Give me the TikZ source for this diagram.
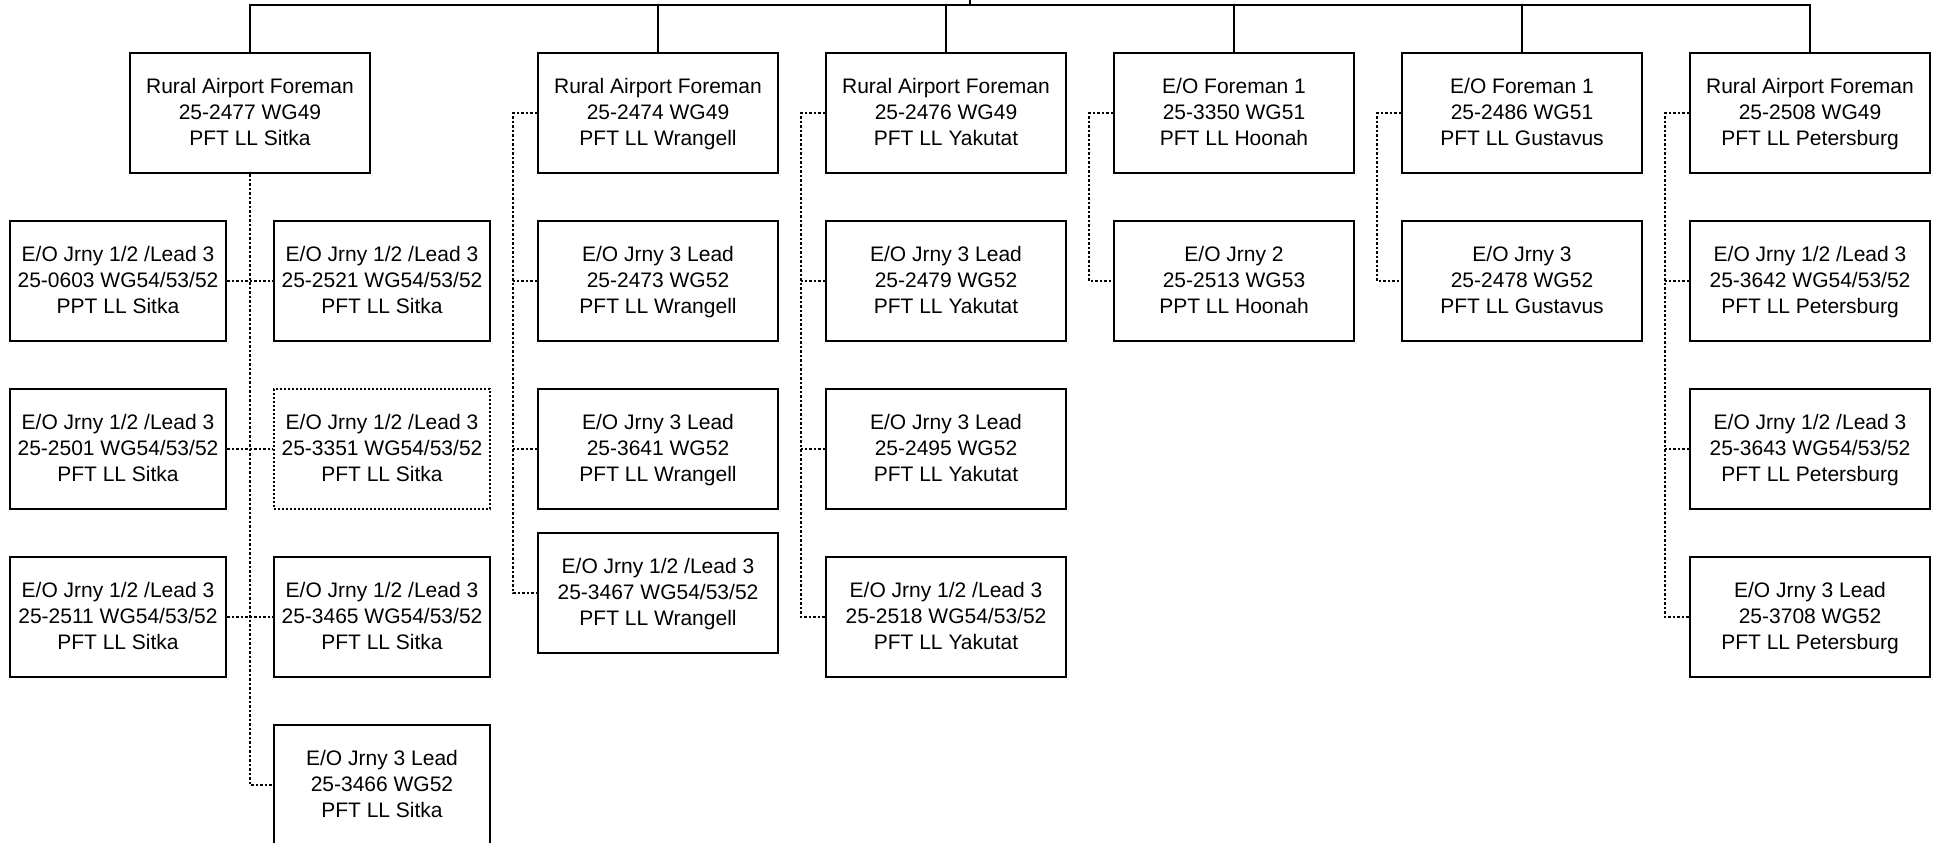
\documentclass[tikz,border=0pt]{standalone}
\usepackage{fontspec}
\setmainfont{Liberation Sans}
\begin{document}
\begin{tikzpicture}[x=1pt,y=-1pt,
  box/.style={draw, line width=2pt, minimum width=240pt, minimum height=120pt, inner sep=0pt, align=center, text depth=2.5pt, font=\fontsize{21}{25.7}\selectfont},
  nbox/.style={box, minimum width=216pt},
  dotline/.style={line width=1.8pt, dash pattern=on 2.5pt off 2pt},
  solidline/.style={line width=2pt}]
\useasboundingbox (0,0) rectangle (1939,843);
% managers
\node[box] (m1) at (250,113) {Rural Airport Foreman\\25-2477 WG49\\PFT LL Sitka};
\node[box] (m2) at (658,113) {Rural Airport Foreman\\25-2474 WG49\\PFT LL Wrangell};
\node[box] (m3) at (946,113) {Rural Airport Foreman\\25-2476 WG49\\PFT LL Yakutat};
\node[box] (m4) at (1234,113) {E/O Foreman 1\\25-3350 WG51\\PFT LL Hoonah};
\node[box] (m5) at (1522,113) {E/O Foreman 1\\25-2486 WG51\\PFT LL Gustavus};
\node[box] (m6) at (1810,113) {Rural Airport Foreman\\25-2508 WG49\\PFT LL Petersburg};
% Sitka
\node[nbox] (a1) at (118,281) {E/O Jrny 1/2 /Lead 3\\25-0603 WG54/53/52\\PPT LL Sitka};
\node[nbox] (b1) at (382,281) {E/O Jrny 1/2 /Lead 3\\25-2521 WG54/53/52\\PFT LL Sitka};
\node[nbox] (a2) at (118,449) {E/O Jrny 1/2 /Lead 3\\25-2501 WG54/53/52\\PFT LL Sitka};
\node[nbox, dash pattern=on 2pt off 2pt] (b2) at (382,449) {E/O Jrny 1/2 /Lead 3\\25-3351 WG54/53/52\\PFT LL Sitka};
\node[nbox] (a3) at (118,617) {E/O Jrny 1/2 /Lead 3\\25-2511 WG54/53/52\\PFT LL Sitka};
\node[nbox] (b3) at (382,617) {E/O Jrny 1/2 /Lead 3\\25-3465 WG54/53/52\\PFT LL Sitka};
\node[nbox] (b4) at (382,785) {E/O Jrny 3 Lead\\25-3466 WG52\\PFT LL Sitka};
% Wrangell
\node[box] (c1) at (658,281) {E/O Jrny 3 Lead\\25-2473 WG52\\PFT LL Wrangell};
\node[box] (c2) at (658,449) {E/O Jrny 3 Lead\\25-3641 WG52\\PFT LL Wrangell};
\node[box] (c3) at (658,593) {E/O Jrny 1/2 /Lead 3\\25-3467 WG54/53/52\\PFT LL Wrangell};
% Yakutat
\node[box] (d1) at (946,281) {E/O Jrny 3 Lead\\25-2479 WG52\\PFT LL Yakutat};
\node[box] (d2) at (946,449) {E/O Jrny 3 Lead\\25-2495 WG52\\PFT LL Yakutat};
\node[box] (d3) at (946,617) {E/O Jrny 1/2 /Lead 3\\25-2518 WG54/53/52\\PFT LL Yakutat};
% Hoonah
\node[box] (e1) at (1234,281) {E/O Jrny 2\\25-2513 WG53\\PPT LL Hoonah};
% Gustavus
\node[box] (f1) at (1522,281) {E/O Jrny 3\\25-2478 WG52\\PFT LL Gustavus};
% Petersburg
\node[box] (g1) at (1810,281) {E/O Jrny 1/2 /Lead 3\\25-3642 WG54/53/52\\PFT LL Petersburg};
\node[box] (g2) at (1810,449) {E/O Jrny 1/2 /Lead 3\\25-3643 WG54/53/52\\PFT LL Petersburg};
\node[box] (g3) at (1810,617) {E/O Jrny 3 Lead\\25-3708 WG52\\PFT LL Petersburg};
% top bus
\coordinate (parent) at (970,0);
\coordinate (bus) at (970,5);
\draw[solidline] (parent) -- (bus);
\draw[solidline] (m1.north) |- (bus) -| (m6.north);
\foreach \m in {m2,m3,m4,m5} \draw[solidline] (\m.north) -- (\m.north |- bus);
% Sitka dotted
\draw[dotline] (m1.south) |- (b4.west);
\draw[dotline] (a1.east) -- (b1.west);
\draw[dotline] (a2.east) -- (b2.west);
\draw[dotline] (a3.east) -- (b3.west);
% Wrangell
\draw[dotline] (m2.west) -- ++(-24,0) |- (c3.west);
\draw[dotline] (c1.west) -- ++(-24,0);
\draw[dotline] (c2.west) -- ++(-24,0);
% Yakutat
\draw[dotline] (m3.west) -- ++(-24,0) |- (d3.west);
\draw[dotline] (d1.west) -- ++(-24,0);
\draw[dotline] (d2.west) -- ++(-24,0);
% Hoonah
\draw[dotline] (m4.west) -- ++(-24,0) |- (e1.west);
% Gustavus
\draw[dotline] (m5.west) -- ++(-24,0) |- (f1.west);
% Petersburg
\draw[dotline] (m6.west) -- ++(-24,0) |- (g3.west);
\draw[dotline] (g1.west) -- ++(-24,0);
\draw[dotline] (g2.west) -- ++(-24,0);
\end{tikzpicture}
\end{document}
